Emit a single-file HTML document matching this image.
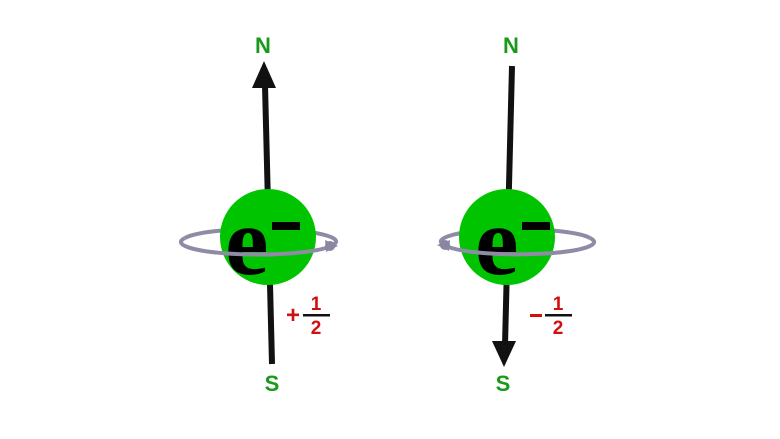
<!DOCTYPE html>
<html><head><style>
html,body{margin:0;padding:0;background:#fff;}
svg{display:block}
</style></head><body>
<svg width="780" height="439" viewBox="0 0 780 439" xmlns="http://www.w3.org/2000/svg">
<rect width="780" height="439" fill="#fff"/>
<!-- LEFT -->
<line x1="265" y1="85" x2="272" y2="364" stroke="#111" stroke-width="6"/>
<polygon points="264,61 252,88 276,88" fill="#111"/>
<path d="M333,245 A74,12 0 1 0 185,238" fill="none" stroke="#8f8aa6" stroke-width="4"/>
<circle cx="268" cy="237" r="48" fill="#00c400"/>
<text x="225" y="274" font-family="Liberation Serif, serif" font-weight="bold" font-size="98" fill="#000">e</text>
<rect x="272" y="222" width="28" height="8" fill="#000"/>
<path d="M185,238 A74,12 0 0 0 331,246" fill="none" stroke="#8f8aa6" stroke-width="4"/>
<polygon points="325,240 338,246 326,252" fill="#8f8aa6"/>
<circle cx="330" cy="246" r="5" fill="#8a85a0"/>
<text x="263" y="53" text-anchor="middle" font-family="Liberation Sans, sans-serif" font-weight="bold" font-size="22" fill="#1a9a1a">N</text>
<text x="272" y="391" text-anchor="middle" font-family="Liberation Sans, sans-serif" font-weight="bold" font-size="22" fill="#1a9a1a">S</text>
<text x="293" y="323" text-anchor="middle" font-family="Liberation Sans, sans-serif" font-weight="bold" font-size="24" fill="#d01010">+</text>
<text x="316" y="310" text-anchor="middle" font-family="Liberation Sans, sans-serif" font-weight="bold" font-size="19" fill="#d01010">1</text>
<rect x="303" y="314" width="27" height="2.5" fill="#111"/>
<text x="316" y="334" text-anchor="middle" font-family="Liberation Sans, sans-serif" font-weight="bold" font-size="19" fill="#d01010">2</text>
<!-- RIGHT -->
<line x1="512" y1="66" x2="505" y2="345" stroke="#111" stroke-width="6"/>
<polygon points="504,367 492,341 516,341" fill="#111"/>
<path d="M444,245 A74,12 0 0 1 590,238" fill="none" stroke="#8f8aa6" stroke-width="4"/>
<circle cx="507" cy="237" r="48" fill="#00c400"/>
<text x="475" y="274" font-family="Liberation Serif, serif" font-weight="bold" font-size="98" fill="#000">e</text>
<rect x="522" y="222" width="28" height="8" fill="#000"/>
<path d="M590,238 A74,12 0 0 1 446,246" fill="none" stroke="#8f8aa6" stroke-width="4"/>
<polygon points="450,240 437,245 449,251" fill="#8f8aa6"/>
<circle cx="445" cy="245" r="5" fill="#8a85a0"/>
<text x="511" y="53" text-anchor="middle" font-family="Liberation Sans, sans-serif" font-weight="bold" font-size="22" fill="#1a9a1a">N</text>
<text x="503" y="391" text-anchor="middle" font-family="Liberation Sans, sans-serif" font-weight="bold" font-size="22" fill="#1a9a1a">S</text>
<rect x="530" y="314" width="12" height="3" fill="#d01010"/>
<text x="558" y="310" text-anchor="middle" font-family="Liberation Sans, sans-serif" font-weight="bold" font-size="19" fill="#d01010">1</text>
<rect x="545" y="314" width="27" height="2.5" fill="#111"/>
<text x="558" y="334" text-anchor="middle" font-family="Liberation Sans, sans-serif" font-weight="bold" font-size="19" fill="#d01010">2</text>
</svg>
</body></html>
